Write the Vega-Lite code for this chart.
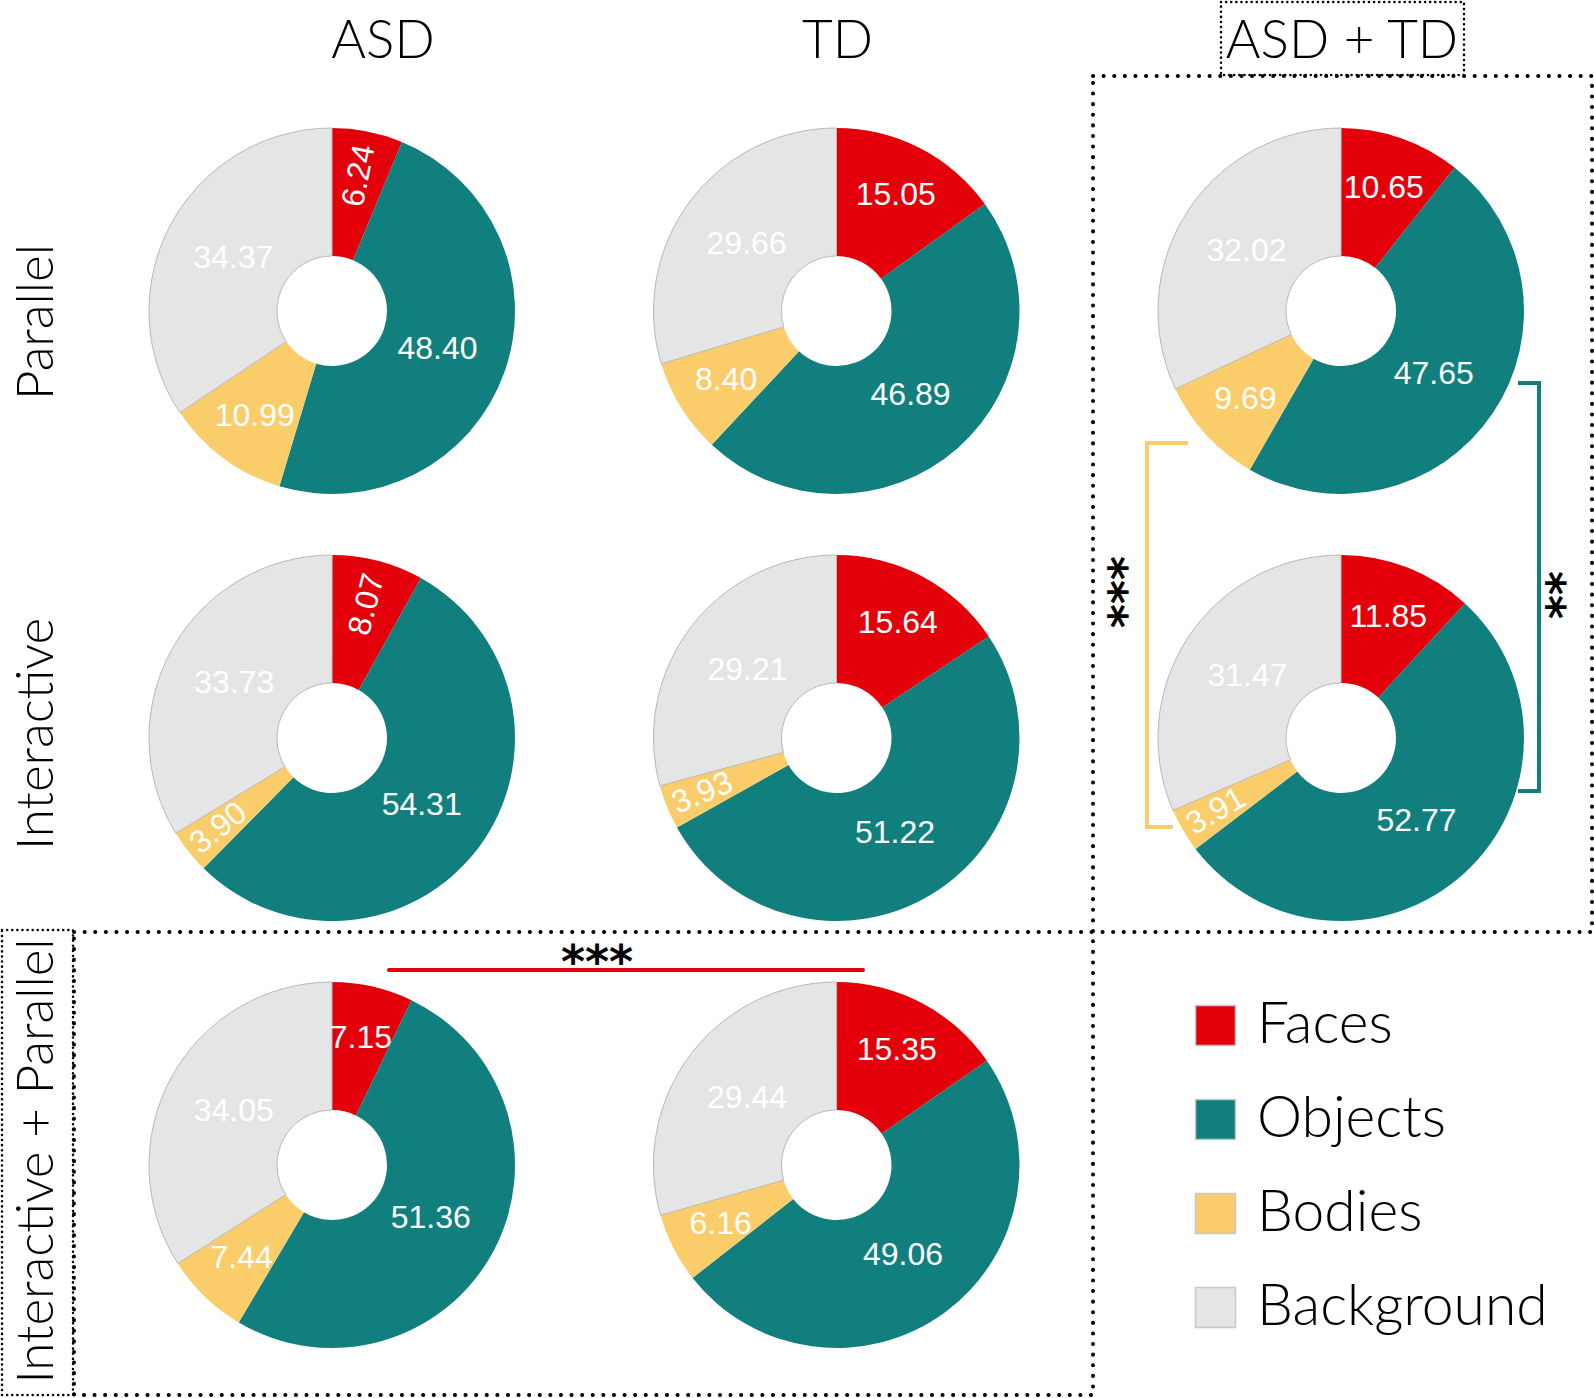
{
  "$schema": "https://vega.github.io/schema/vega-lite/v6.json",
  "width": 1594,
  "height": 1398,
  "autosize": "none",
  "padding": 0,
  "background": "white",
  "config": {"view": {"stroke": null}, "scale": {"pointPadding": 0}},
  "datasets": {
    "shares": [
      {"group": "ASD", "condition": "Parallel", "category": "Faces", "value": 6.24},
      {"group": "ASD", "condition": "Parallel", "category": "Objects", "value": 48.40},
      {"group": "ASD", "condition": "Parallel", "category": "Bodies", "value": 10.99},
      {"group": "ASD", "condition": "Parallel", "category": "Background", "value": 34.37},
      {"group": "TD", "condition": "Parallel", "category": "Faces", "value": 15.05},
      {"group": "TD", "condition": "Parallel", "category": "Objects", "value": 46.89},
      {"group": "TD", "condition": "Parallel", "category": "Bodies", "value": 8.40},
      {"group": "TD", "condition": "Parallel", "category": "Background", "value": 29.66},
      {"group": "ASD + TD", "condition": "Parallel", "category": "Faces", "value": 10.65},
      {"group": "ASD + TD", "condition": "Parallel", "category": "Objects", "value": 47.65},
      {"group": "ASD + TD", "condition": "Parallel", "category": "Bodies", "value": 9.69},
      {"group": "ASD + TD", "condition": "Parallel", "category": "Background", "value": 32.02},
      {"group": "ASD", "condition": "Interactive", "category": "Faces", "value": 8.07},
      {"group": "ASD", "condition": "Interactive", "category": "Objects", "value": 54.31},
      {"group": "ASD", "condition": "Interactive", "category": "Bodies", "value": 3.90},
      {"group": "ASD", "condition": "Interactive", "category": "Background", "value": 33.73},
      {"group": "TD", "condition": "Interactive", "category": "Faces", "value": 15.64},
      {"group": "TD", "condition": "Interactive", "category": "Objects", "value": 51.22},
      {"group": "TD", "condition": "Interactive", "category": "Bodies", "value": 3.93},
      {"group": "TD", "condition": "Interactive", "category": "Background", "value": 29.21},
      {"group": "ASD + TD", "condition": "Interactive", "category": "Faces", "value": 11.85},
      {"group": "ASD + TD", "condition": "Interactive", "category": "Objects", "value": 52.77},
      {"group": "ASD + TD", "condition": "Interactive", "category": "Bodies", "value": 3.91},
      {"group": "ASD + TD", "condition": "Interactive", "category": "Background", "value": 31.47},
      {"group": "ASD", "condition": "Interactive + Parallel", "category": "Faces", "value": 7.15},
      {"group": "ASD", "condition": "Interactive + Parallel", "category": "Objects", "value": 51.36},
      {"group": "ASD", "condition": "Interactive + Parallel", "category": "Bodies", "value": 7.44},
      {"group": "ASD", "condition": "Interactive + Parallel", "category": "Background", "value": 34.05},
      {"group": "TD", "condition": "Interactive + Parallel", "category": "Faces", "value": 15.35},
      {"group": "TD", "condition": "Interactive + Parallel", "category": "Objects", "value": 49.06},
      {"group": "TD", "condition": "Interactive + Parallel", "category": "Bodies", "value": 6.16},
      {"group": "TD", "condition": "Interactive + Parallel", "category": "Background", "value": 29.44}
    ],
    "tests": [
      {"group": "ASD + TD", "from": "Parallel", "to": "Interactive", "category": "Bodies", "stars": "***"},
      {"group": "ASD + TD", "from": "Parallel", "to": "Interactive", "category": "Objects", "stars": "**"},
      {"condition": "Interactive + Parallel", "from": "ASD", "to": "TD", "category": "Faces", "stars": "***"}
    ]
  },
  "layer": [
    {
      "data": {"name": "shares"},
      "transform": [
        {"window": [{"op": "row_number", "as": "idx"}], "groupby": ["group", "condition"]},
        {"stack": "value", "groupby": ["group", "condition"], "sort": [{"field": "idx", "order": "ascending"}], "as": ["v0", "v1"]}
      ],
      "encoding": {
        "x": {
          "field": "group", "type": "nominal", "title": null,
          "scale": {"type": "point", "padding": 0, "domain": ["ASD", "TD", "ASD + TD"], "range": [332, 1341]},
          "axis": null
        },
        "y": {
          "field": "condition", "type": "nominal", "title": null,
          "scale": {"type": "point", "padding": 0, "domain": ["Parallel", "Interactive", "Interactive + Parallel"], "range": [311, 1165]},
          "axis": null
        }
      },
      "layer": [
        {
          "mark": {"type": "arc", "outerRadius": 183, "innerRadius": 55, "strokeWidth": 1},
          "encoding": {
            "theta": {"field": "v0", "type": "quantitative", "stack": null, "scale": {"domain": [0, 100], "range": [0, 6.283185307179586]}},
            "theta2": {"field": "v1"},
            "color": {
              "field": "category", "type": "nominal",
              "scale": {"domain": ["Faces", "Objects", "Bodies", "Background"], "range": ["#e3000b", "#117f7d", "#fbcd6a", "#e5e5e5"]},
              "legend": {"orient": "none", "legendX": 1187, "legendY": 997, "title": null, "direction": "vertical", "symbolType": "square", "symbolSize": 1600, "symbolStrokeColor": "#c8c8c8", "symbolStrokeWidth": 1.5, "labelFont": "Lato", "labelFontWeight": 300, "labelFontSize": 57, "labelColor": "black", "labelOffset": 13, "rowPadding": 36, "labelLimit": 0}
            },
            "stroke": {"condition": {"test": "datum.category === 'Background'", "value": "#b8b8b8"}, "value": "transparent"}
          }
        },
        {
          "transform": [
            {"fold": ["v0", "v1"], "as": ["edge", "pos"]},
            {"aggregate": [{"op": "mean", "field": "pos", "as": "mid"}], "groupby": ["group", "condition", "category", "value"]},
            {"filter": "!((datum.category === 'Faces' && datum.group === 'ASD' && datum.condition !== 'Interactive + Parallel') || (datum.category === 'Bodies' && datum.condition === 'Interactive')) && datum.value >= 25"}
          ],
          "mark": {"type": "text", "radius": 112, "font": "Liberation Sans", "fontSize": 32, "fill": "white", "align": "center", "baseline": "middle"},
          "encoding": {
            "theta": {"field": "mid", "type": "quantitative", "stack": null},
            "text": {"field": "value", "type": "quantitative", "format": ".2f"}
          }
        },
        {
          "transform": [
            {"fold": ["v0", "v1"], "as": ["edge", "pos"]},
            {"aggregate": [{"op": "mean", "field": "pos", "as": "mid"}], "groupby": ["group", "condition", "category", "value"]},
            {"filter": "!((datum.category === 'Faces' && datum.group === 'ASD' && datum.condition !== 'Interactive + Parallel') || (datum.category === 'Bodies' && datum.condition === 'Interactive')) && datum.value < 25"}
          ],
          "mark": {"type": "text", "radius": 130, "font": "Liberation Sans", "fontSize": 32, "fill": "white", "align": "center", "baseline": "middle"},
          "encoding": {
            "theta": {"field": "mid", "type": "quantitative", "stack": null},
            "text": {"field": "value", "type": "quantitative", "format": ".2f"}
          }
        },
        {
          "transform": [
            {"fold": ["v0", "v1"], "as": ["edge", "pos"]},
            {"aggregate": [{"op": "mean", "field": "pos", "as": "mid"}], "groupby": ["group", "condition", "category", "value"]},
            {"filter": "datum.category === 'Faces' && datum.group === 'ASD' && datum.condition !== 'Interactive + Parallel'"}
          ],
          "mark": {"type": "text", "radius": 138, "font": "Liberation Sans", "fontSize": 32, "fill": "white", "align": "center", "baseline": "middle"},
          "encoding": {
            "theta": {"field": "mid", "type": "quantitative", "stack": null},
            "angle": {"field": "mid", "type": "quantitative", "scale": {"domain": [0, 100], "range": [-90, 270]}, "legend": null},
            "text": {"field": "value", "type": "quantitative", "format": ".2f"}
          }
        },
        {
          "transform": [
            {"fold": ["v0", "v1"], "as": ["edge", "pos"]},
            {"aggregate": [{"op": "mean", "field": "pos", "as": "mid"}], "groupby": ["group", "condition", "category", "value"]},
            {"filter": "datum.category === 'Bodies' && datum.condition === 'Interactive'"}
          ],
          "mark": {"type": "text", "radius": 145, "font": "Liberation Sans", "fontSize": 32, "fill": "white", "align": "center", "baseline": "middle"},
          "encoding": {
            "theta": {"field": "mid", "type": "quantitative", "stack": null},
            "angle": {"field": "mid", "type": "quantitative", "scale": {"domain": [0, 100], "range": [-270, 90]}, "legend": null},
            "text": {"field": "value", "type": "quantitative", "format": ".2f"}
          }
        }
      ],
      "resolve": {"scale": {"angle": "independent"}}
    },
    {
      "data": {"name": "shares"},
      "transform": [{"aggregate": [], "groupby": ["group"]}, {"filter": "datum.group === 'ASD'"}],
      "mark": {"type": "text", "font": "Lato", "fontWeight": 300, "fontSize": 53, "fill": "black", "align": "center", "baseline": "alphabetic", "xOffset": 51, "yOffset": -253},
      "encoding": {
        "x": {"field": "group", "type": "nominal", "scale": {"type": "point"}, "axis": null},
        "y": {"datum": "Parallel", "type": "nominal", "scale": {"type": "point"}, "axis": null},
        "text": {"field": "group"}
      }
    },
    {
      "data": {"name": "shares"},
      "transform": [{"aggregate": [], "groupby": ["group"]}, {"filter": "datum.group !== 'ASD'"}],
      "mark": {"type": "text", "font": "Lato", "fontWeight": 300, "fontSize": 53, "fill": "black", "align": "center", "baseline": "alphabetic", "xOffset": 1, "yOffset": -253},
      "encoding": {
        "x": {"field": "group", "type": "nominal", "scale": {"type": "point"}, "axis": null},
        "y": {"datum": "Parallel", "type": "nominal", "scale": {"type": "point"}, "axis": null},
        "text": {"field": "group"}
      }
    },
    {
      "data": {"name": "shares"},
      "transform": [{"aggregate": [], "groupby": ["condition"]}, {"filter": "datum.condition === 'Parallel'"}],
      "mark": {"type": "text", "font": "Lato", "fontWeight": 300, "fontSize": 51, "fill": "black", "align": "center", "baseline": "alphabetic", "angle": 270, "xOffset": -279, "yOffset": 11},
      "encoding": {
        "x": {"datum": "ASD", "type": "nominal", "scale": {"type": "point"}, "axis": null},
        "y": {"field": "condition", "type": "nominal", "scale": {"type": "point"}, "axis": null},
        "text": {"field": "condition"}
      }
    },
    {
      "data": {"name": "shares"},
      "transform": [{"aggregate": [], "groupby": ["condition"]}, {"filter": "datum.condition !== 'Parallel'"}],
      "mark": {"type": "text", "font": "Lato", "fontWeight": 300, "fontSize": 51, "fill": "black", "align": "center", "baseline": "alphabetic", "angle": 270, "xOffset": -279, "yOffset": -4},
      "encoding": {
        "x": {"datum": "ASD", "type": "nominal", "scale": {"type": "point"}, "axis": null},
        "y": {"field": "condition", "type": "nominal", "scale": {"type": "point"}, "axis": null},
        "text": {"field": "condition"}
      }
    },
    {
      "data": {"values": [{}]},
      "mark": {"type": "rect", "filled": false, "stroke": "black", "strokeWidth": 4, "strokeDash": [0.1, 10.5], "strokeCap": "round", "xOffset": -248, "x2Offset": 251, "yOffset": -235, "y2Offset": 194},
      "encoding": {
        "x": {"datum": "ASD + TD", "type": "nominal", "scale": {"type": "point"}, "axis": null},
        "x2": {"datum": "ASD + TD"},
        "y": {"datum": "Parallel", "type": "nominal", "scale": {"type": "point"}, "axis": null},
        "y2": {"datum": "Interactive"}
      }
    },
    {
      "data": {"values": [{}]},
      "mark": {"type": "rect", "filled": false, "stroke": "black", "strokeWidth": 4, "strokeDash": [0.1, 10.5], "strokeCap": "round", "xOffset": -258, "x2Offset": 256.5, "yOffset": -233, "y2Offset": 230},
      "encoding": {
        "x": {"datum": "ASD", "type": "nominal", "scale": {"type": "point"}, "axis": null},
        "x2": {"datum": "TD"},
        "y": {"datum": "Interactive + Parallel", "type": "nominal", "scale": {"type": "point"}, "axis": null},
        "y2": {"datum": "Interactive + Parallel"}
      }
    },
    {
      "data": {"values": [{}]},
      "mark": {"type": "rect", "filled": false, "stroke": "black", "strokeWidth": 2.5, "strokeDash": [0.1, 5], "strokeCap": "round", "xOffset": -330, "x2Offset": -259, "yOffset": -235, "y2Offset": 230},
      "encoding": {
        "x": {"datum": "ASD", "type": "nominal", "scale": {"type": "point"}, "axis": null},
        "x2": {"datum": "ASD"},
        "y": {"datum": "Interactive + Parallel", "type": "nominal", "scale": {"type": "point"}, "axis": null},
        "y2": {"datum": "Interactive + Parallel"}
      }
    },
    {
      "data": {"values": [{}]},
      "mark": {"type": "rect", "filled": false, "stroke": "black", "strokeWidth": 2.5, "strokeDash": [0.1, 5], "strokeCap": "round", "xOffset": -120, "x2Offset": 123, "yOffset": -309, "y2Offset": -236},
      "encoding": {
        "x": {"datum": "ASD + TD", "type": "nominal", "scale": {"type": "point"}, "axis": null},
        "x2": {"datum": "ASD + TD"},
        "y": {"datum": "Parallel", "type": "nominal", "scale": {"type": "point"}, "axis": null},
        "y2": {"datum": "Parallel"}
      }
    },
    {
      "data": {"name": "tests"},
      "transform": [{"filter": "datum.category === 'Bodies'"}],
      "mark": {"type": "rule", "stroke": "#fbcd6a", "strokeWidth": 4, "xOffset": -194, "yOffset": 132, "y2Offset": 89},
      "encoding": {
        "x": {"field": "group", "type": "nominal", "scale": {"type": "point"}, "axis": null},
        "y": {"field": "from", "type": "nominal", "scale": {"type": "point"}, "axis": null},
        "y2": {"field": "to"}
      }
    },
    {
      "data": {"name": "tests"},
      "transform": [{"filter": "datum.category === 'Bodies'"}],
      "mark": {"type": "rule", "stroke": "#fbcd6a", "strokeWidth": 4, "xOffset": -196, "x2Offset": -153, "yOffset": 132},
      "encoding": {
        "x": {"field": "group", "type": "nominal", "scale": {"type": "point"}, "axis": null},
        "x2": {"field": "group"},
        "y": {"field": "from", "type": "nominal", "scale": {"type": "point"}, "axis": null}
      }
    },
    {
      "data": {"name": "tests"},
      "transform": [{"filter": "datum.category === 'Bodies'"}],
      "mark": {"type": "rule", "stroke": "#fbcd6a", "strokeWidth": 4, "xOffset": -196, "x2Offset": -168, "yOffset": 89},
      "encoding": {
        "x": {"field": "group", "type": "nominal", "scale": {"type": "point"}, "axis": null},
        "x2": {"field": "group"},
        "y": {"field": "to", "type": "nominal", "scale": {"type": "point"}, "axis": null}
      }
    },
    {
      "data": {"name": "tests"},
      "transform": [{"filter": "datum.category === 'Objects'"}],
      "mark": {"type": "rule", "stroke": "#117f7d", "strokeWidth": 4, "xOffset": 198, "yOffset": 72, "y2Offset": 53},
      "encoding": {
        "x": {"field": "group", "type": "nominal", "scale": {"type": "point"}, "axis": null},
        "y": {"field": "from", "type": "nominal", "scale": {"type": "point"}, "axis": null},
        "y2": {"field": "to"}
      }
    },
    {
      "data": {"name": "tests"},
      "transform": [{"filter": "datum.category === 'Objects'"}],
      "mark": {"type": "rule", "stroke": "#117f7d", "strokeWidth": 4, "xOffset": 177, "x2Offset": 200, "yOffset": 72},
      "encoding": {
        "x": {"field": "group", "type": "nominal", "scale": {"type": "point"}, "axis": null},
        "x2": {"field": "group"},
        "y": {"field": "from", "type": "nominal", "scale": {"type": "point"}, "axis": null}
      }
    },
    {
      "data": {"name": "tests"},
      "transform": [{"filter": "datum.category === 'Objects'"}],
      "mark": {"type": "rule", "stroke": "#117f7d", "strokeWidth": 4, "xOffset": 177, "x2Offset": 200, "yOffset": 53},
      "encoding": {
        "x": {"field": "group", "type": "nominal", "scale": {"type": "point"}, "axis": null},
        "x2": {"field": "group"},
        "y": {"field": "to", "type": "nominal", "scale": {"type": "point"}, "axis": null}
      }
    },
    {
      "data": {"name": "tests"},
      "transform": [{"filter": "datum.category === 'Faces'"}],
      "mark": {"type": "rule", "stroke": "#e3000b", "strokeWidth": 4, "strokeCap": "round", "xOffset": 57, "x2Offset": 26.5, "yOffset": -195},
      "encoding": {
        "x": {"field": "from", "type": "nominal", "scale": {"type": "point"}, "axis": null},
        "x2": {"field": "to"},
        "y": {"field": "condition", "type": "nominal", "scale": {"type": "point"}, "axis": null}
      }
    },
    {
      "data": {"name": "tests"},
      "transform": [{"filter": "datum.category === 'Faces'"}],
      "mark": {"type": "text", "font": "DejaVu Sans", "fontWeight": "bold", "fontSize": 46, "fill": "black", "align": "center", "baseline": "alphabetic", "xOffset": 265, "yOffset": -187},
      "encoding": {
        "x": {"field": "from", "type": "nominal", "scale": {"type": "point"}, "axis": null},
        "y": {"field": "condition", "type": "nominal", "scale": {"type": "point"}, "axis": null},
        "text": {"field": "stars"}
      }
    },
    {
      "data": {"name": "tests"},
      "transform": [{"filter": "datum.category === 'Bodies'"}],
      "mark": {"type": "text", "font": "DejaVu Sans", "fontWeight": "bold", "fontSize": 46, "fill": "black", "align": "center", "baseline": "alphabetic", "angle": 90, "xOffset": -247, "yOffset": 281},
      "encoding": {
        "x": {"field": "group", "type": "nominal", "scale": {"type": "point"}, "axis": null},
        "y": {"field": "from", "type": "nominal", "scale": {"type": "point"}, "axis": null},
        "text": {"field": "stars"}
      }
    },
    {
      "data": {"name": "tests"},
      "transform": [{"filter": "datum.category === 'Objects'"}],
      "mark": {"type": "text", "font": "DejaVu Sans", "fontWeight": "bold", "fontSize": 46, "fill": "black", "align": "center", "baseline": "alphabetic", "angle": 90, "xOffset": 191, "yOffset": 284},
      "encoding": {
        "x": {"field": "group", "type": "nominal", "scale": {"type": "point"}, "axis": null},
        "y": {"field": "from", "type": "nominal", "scale": {"type": "point"}, "axis": null},
        "text": {"field": "stars"}
      }
    }
  ]
}
